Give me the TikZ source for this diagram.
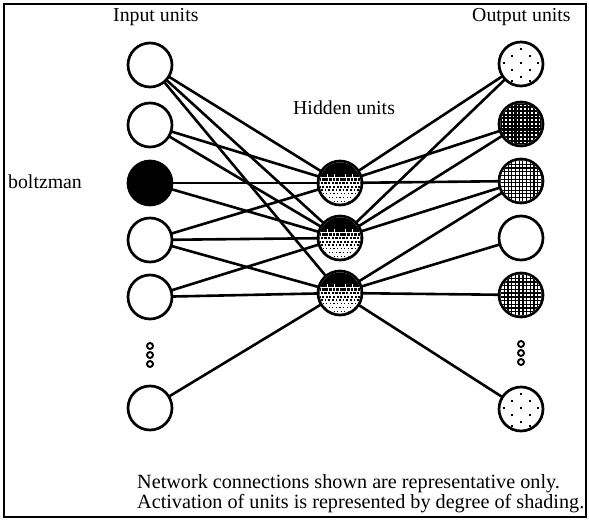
\documentclass[tikz,border=0pt]{standalone}
\usepackage{fontspec}
\setmainfont{Liberation Serif}
\pgfdeclarelayer{back}
\pgfdeclarelayer{bg}
\pgfsetlayers{back,bg,main}
\tikzset{
  unit/.style={circle, draw, line width=2.7pt, fill=white, minimum size=44pt, inner sep=0pt},
  minidot/.style={circle, draw, line width=1.9pt, fill=white, minimum size=6pt, inner sep=0pt},
  conn/.style={line width=2.6pt},
  lbl/.style={anchor=base west, inner sep=0pt, font=\fontsize{19.8}{19.8}\selectfont},
  note/.style={anchor=base west, inner sep=0pt, align=left, font=\fontsize{20.2}{18}\selectfont},
}
\newcommand{\hiddenshade}[1]{%
  \begin{scope}[shift={(#1.center)}]
    \clip (0,0) circle (20.6);
    \foreach \j/\f in {0/1,1/1,2/1,3/1,4/0.85,5/0.72,6/0.6,7/0.5,8/0.41,9/0.33,10/0.27,11/0.23,12/0.2} {
      \foreach \i in {0,...,12} {
        \pgfmathsetmacro\cx{\i*3.6-21.6+mod(\j,2)*1.2}
        \pgfmathsetmacro\cy{\j*3.6-21.6}
        \pgfmathsetmacro\hh{1.8*\f+0.05}
        \fill (\cx-\hh,\cy-\hh) rectangle (\cx+\hh,\cy+\hh);
      }
    }
  \end{scope}}
\newcommand{\gridshade}[2]{% node, white hole half-size
  \begin{scope}[shift={(#1.center)}]
    \clip (0,0) circle (20.6);
    \fill (-22,-22) rectangle (22,22);
    \foreach \j in {0,...,12} {
      \foreach \i in {0,...,12} {
        \pgfmathsetmacro\cx{\i*3.7-22.2}
        \pgfmathsetmacro\cy{\j*3.7-22.2}
        \fill[white] (\cx-#2,\cy-#2) rectangle (\cx+#2,\cy+#2);
      }
    }
  \end{scope}}
\newcommand{\lightshade}[1]{%
  \begin{scope}[shift={(#1.center)}]
    \foreach \px/\py in {0/-15,-9/-8,9/-8,0/-1,-17/-1,17/-1,-9/6,9/6,0/13,-9/17,9/17} {
      \fill (\px-1.4,\py-1.4) rectangle (\px+1.4,\py+1.4);
    }
  \end{scope}}
\begin{document}
\begin{tikzpicture}[x=1pt,y=-1pt]
\useasboundingbox (0,0) rectangle (589,521);
\begin{pgfonlayer}{back}
\fill[white] (0,0) rectangle (589,521);
\end{pgfonlayer}
\draw[line width=2.2pt] (4,4) rectangle (586,517);

% input units
\node[unit] (i1) at (150,65) {};
\node[unit] (i2) at (150,125) {};
\node[unit, fill=black] (i3) at (150,183) {};
\node[unit] (i4) at (150,240) {};
\node[unit] (i5) at (150,297) {};
\node[minidot] (id1) at (150,346) {};
\node[minidot] (id2) at (150,355) {};
\node[minidot] (id3) at (150,364) {};
\node[unit] (i6) at (150,408) {};

% hidden units
\node[unit] (h1) at (340,183) {};
\node[unit] (h2) at (340,238) {};
\node[unit] (h3) at (340,293) {};

% output units
\node[unit] (o1) at (521,64) {};
\node[unit] (o2) at (521,124) {};
\node[unit] (o3) at (521,181) {};
\node[unit] (o4) at (521,238) {};
\node[unit] (o5) at (521,295) {};
\node[minidot] (od1) at (521,344) {};
\node[minidot] (od2) at (521,353) {};
\node[minidot] (od3) at (521,362) {};
\node[unit] (o6) at (521,409) {};

\begin{pgfonlayer}{bg}
  \foreach \a/\b in {i1/h1,i1/h2,i1/h3,i2/h1,i2/h2,i3/h1,i3/h2,i4/h1,i4/h2,i4/h3,i5/h2,i5/h3,i6/h3,
                     o1/h1,o1/h2,o2/h1,o2/h2,o3/h1,o3/h2,o3/h3,o4/h3,o5/h3,o6/h3}
    \draw[conn] (\a.center) -- (\b.center);
\end{pgfonlayer}

\hiddenshade{h1}
\hiddenshade{h2}
\hiddenshade{h3}
\lightshade{o1}
\gridshade{o2}{0.8}
\gridshade{o3}{1.3}
\gridshade{o5}{1.15}
\lightshade{o6}

% labels
\node[lbl] (tin) at (113,22) {Input units};
\node[lbl] (tout) at (472,22) {Output units};
\node[lbl] (thid) at (293,115) {Hidden units};
\node[lbl] (tb) at (8,189) {boltzman};
\node[note] (n1) at (137,508) {Network connections shown are representative only.\\Activation of units is represented by degree of shading.};
\end{tikzpicture}
\end{document}
